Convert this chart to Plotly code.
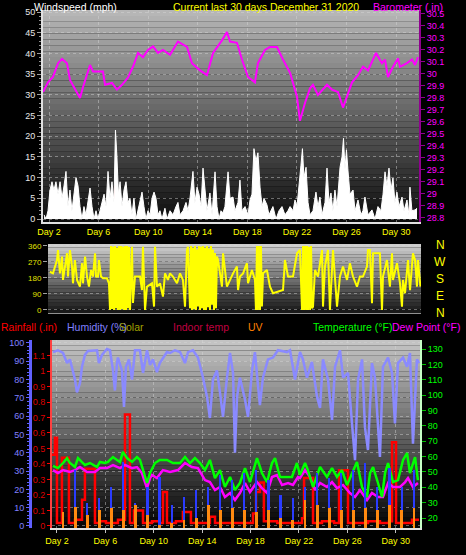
import plotly.graph_objects as go

W, H = 466, 555
FONT = "Liberation Sans, Arial, sans-serif"

# ---------------- DATA ----------------
day_ticks = [2, 6, 10, 14, 18, 22, 26, 30]
day_labels = ["Day %d" % d for d in day_ticks]

baro_days = [1.52, 1.92, 2.32, 2.73, 3.05, 3.29, 3.45, 3.69, 4.10, 4.50,
             4.74, 5.15, 5.31, 5.55, 6.35, 6.52, 7.08, 7.48, 7.89, 8.37,
             8.77, 9.18, 9.58, 9.98, 10.39, 10.79, 11.19, 11.76, 12.40, 13.13,
             13.53, 14.18, 14.74, 15.23, 15.95, 16.35, 16.60, 17.16, 17.56, 18.05,
             18.61, 18.85, 19.42, 19.82, 20.39, 20.87, 21.44, 22.0, 22.24, 22.65,
             23.05, 23.29, 23.69, 24.42, 24.82, 25.31, 25.71, 26.44, 26.92, 27.32,
             27.73, 28.37, 28.85, 29.10, 29.34, 29.74, 30.15, 30.31, 30.87, 31.27,
             31.52, 31.76]
baro_inhg = [29.85, 29.93, 29.975, 30.09, 30.125, 30.10, 30.09, 29.95, 29.87, 29.80,
             29.89, 30.01, 30.075, 30.02, 30.02, 29.91, 29.925, 29.87, 29.91, 29.97,
             30.06, 30.175, 30.14, 30.20, 30.23, 30.175, 30.20, 30.16, 30.27, 30.225,
             30.09, 30.03, 29.99, 30.175, 30.28, 30.35, 30.27, 30.26, 30.12, 29.975,
             29.93, 30.09, 30.20, 30.225, 30.225, 30.12, 30.01, 29.81, 29.61, 29.76,
             29.88, 29.91, 29.825, 29.91, 29.87, 29.85, 29.72, 29.93, 29.99, 30.06,
             30.03, 30.175, 30.09, 30.12, 29.975, 30.06, 30.13, 30.06, 30.09, 30.12,
             30.075, 30.14]

wind_days = [1.6, 1.76, 1.92, 2.08, 2.24, 2.4, 2.56, 2.73, 2.89, 3.05,
             3.21, 3.37, 3.53, 3.69, 3.85, 4.02, 4.18, 4.34, 4.5, 4.66,
             4.82, 4.98, 5.15, 5.31, 5.47, 5.63, 5.79, 5.95, 6.11, 6.27,
             6.44, 6.6, 6.76, 6.92, 7.08, 7.24, 7.36, 7.48, 7.6, 7.73,
             7.89, 8.05, 8.21, 8.37, 8.53, 8.69, 8.85, 9.02, 9.18, 9.34,
             9.5, 9.66, 9.82, 9.98, 10.15, 10.31, 10.47, 10.63, 10.79, 10.95,
             11.11, 11.35, 11.52, 11.76, 12.0, 12.24, 12.4, 12.56, 12.81, 13.05,
             13.21, 13.37, 13.61, 13.77, 13.94, 14.1, 14.26, 14.42, 14.58, 14.74,
             14.98, 15.15, 15.39, 15.55, 15.71, 15.87, 16.03, 16.19, 16.44, 16.6,
             16.84, 17.0, 17.24, 17.4, 17.56, 17.81, 18.05, 18.21, 18.37, 18.53,
             18.69, 18.85, 19.02, 19.18, 19.34, 19.58, 19.74, 19.9, 20.06, 20.31,
             20.55, 20.79, 21.03, 21.27, 21.44, 21.68, 21.84, 22.0, 22.16, 22.32,
             22.44, 22.56, 22.73, 22.89, 23.05, 23.29, 23.53, 23.69, 23.85, 24.02,
             24.26, 24.42, 24.58, 24.74, 24.9, 25.06, 25.23, 25.47, 25.63, 25.75,
             25.87, 25.99, 26.11, 26.27, 26.52, 26.68, 26.92, 27.16, 27.32, 27.48,
             27.73, 28.05, 28.29, 28.53, 28.77, 28.94, 29.1, 29.26, 29.42, 29.58,
             29.74, 29.9, 30.06, 30.23, 30.47, 30.63, 30.87, 31.03, 31.11, 31.27,
             31.52, 31.68]
wind_mph = [1, 0, 2, 7, 9, 7, 9, 6, 9, 5,
            8, 11.5, 3, 7, 2, 6, 10, 8, 3, 0,
            3, 1, 5, 7.5, 3, 0, 2, 0, 2, 4,
            6, 3, 11.5, 5, 9, 4, 21.5, 15, 6, 9,
            3, 7, 9, 4, 5, 1, 5, 0, 2, 4,
            6.5, 3, 0, 2, 1, 5, 6.5, 5, 1, 2,
            0, 2.6, 0, 2, 1, 3, 4, 1, 2, 4,
            2, 5, 11.5, 4, 7.7, 6, 3, 12.3, 6, 2,
            6.3, 1, 11.4, 3, 0, 2, 1.5, 3, 11.4, 5,
            5.3, 2, 4, 9.4, 2, 3, 1, 4.6, 6, 17,
            14, 16, 7.7, 3, 5, 3.4, 1, 2, 3, 0,
            2, 3, 1, 2, 3, 2, 4.6, 3, 9, 13,
            17, 10, 12.5, 4, 1, 2, 6.5, 3, 5.3, 1,
            4, 12.3, 4, 6.3, 2, 7, 3, 12.5, 15, 19.5,
            12, 16.7, 11.8, 6, 7, 2, 4.6, 1, 2, 5.3,
            1, 2.2, 0, 3, 2, 6, 11.4, 8, 12.3, 7,
            9.9, 4, 6.5, 3, 5.3, 2, 4.6, 1, 7.7, 2,
            2.2, 2.6]

wavg_days = [2.3, 3.4, 4.2, 5.3, 6.8, 7.36, 7.5, 8.2, 9.5, 10.5,
             13.6, 14.4, 15.4, 16.4, 17.4, 18.5, 18.9, 22.4, 22.7, 24.4,
             25.5, 25.75, 26.0, 29.1, 29.4, 30.1, 31.1]
wavg_mph = [3, 4, 3, 2, 4, 8, 5, 3, 2, 2,
            3, 4, 3, 4, 3, 6, 5, 6, 4, 4,
            4, 7, 6, 4, 5, 2, 3]

dir_days = [1.66, 1.91, 2.24, 2.32, 2.48, 2.65, 2.73, 3.06, 3.14, 3.30,
            3.47, 3.55, 3.71, 3.88, 4.12, 4.29, 4.37, 4.54, 4.70, 4.86,
            5.03, 5.19, 5.36, 5.44, 5.60, 5.68, 5.85, 6.01, 6.34, 6.50,
            6.59, 6.67, 6.75, 6.83, 6.92, 7.00, 7.08, 7.16, 7.24, 7.33,
            7.41, 7.49, 7.57, 7.65, 7.74, 7.82, 7.90, 7.98, 8.06, 8.15,
            8.23, 8.39, 8.47, 8.64, 9.05, 9.21, 9.29, 9.46, 9.62, 10.03,
            10.20, 10.28, 10.44, 10.69, 10.93, 11.10, 11.34, 11.51, 11.75, 12.08,
            12.33, 12.57, 12.74, 12.90, 12.98, 13.15, 13.23, 13.31, 13.39, 13.48,
            13.56, 13.64, 13.72, 13.80, 13.89, 13.97, 14.05, 14.13, 14.21, 14.30,
            14.38, 14.46, 14.54, 14.62, 14.71, 14.79, 14.87, 14.95, 15.03, 15.12,
            15.20, 15.28, 15.36, 15.45, 15.77, 15.86, 16.18, 16.43, 16.68, 17.00,
            17.09, 17.25, 17.50, 17.82, 17.91, 18.23, 18.48, 18.56, 18.64, 18.72,
            18.81, 18.89, 18.97, 19.05, 19.14, 19.46, 19.71, 19.96, 20.37, 20.78,
            20.94, 21.19, 21.60, 21.93, 22.17, 22.34, 22.42, 22.50, 22.58, 22.67,
            22.75, 22.83, 22.91, 23.00, 23.08, 23.16, 23.24, 23.40, 23.65, 23.98,
            24.06, 24.22, 24.47, 24.63, 24.88, 25.21, 25.45, 25.70, 26.03, 26.27,
            26.52, 26.85, 27.09, 27.34, 27.67, 27.75, 27.91, 28.08, 28.16, 28.73,
            28.90, 28.98, 29.31, 29.55, 29.72, 29.80, 30.13, 30.38, 30.54, 30.62,
            30.79, 31.03, 31.20, 31.44, 31.61, 31.77, 31.85, 32.05]
dir_deg = [215, 206, 281, 337, 206, 300, 169, 319, 188, 337,
           244, 150, 281, 169, 131, 263, 150, 300, 188, 131,
           225, 188, 319, 188, 188, 281, 188, 178, 178, 150,
           0, 360, 5, 355, 0, 360, 10, 350, 0, 360,
           0, 360, 5, 355, 0, 360, 0, 360, 10, 355,
           0, 356, 40, 188, 188, 112, 356, 0, 131, 150,
           19, 356, 131, 150, 75, 206, 169, 206, 188, 150,
           206, 169, 19, 337, 356, 10, 360, 0, 350, 5,
           360, 0, 340, 20, 360, 0, 355, 10, 360, 0,
           350, 0, 360, 15, 345, 0, 360, 30, 340, 0,
           320, 10, 300, 281, 131, 319, 131, 169, 206, 244,
           112, 188, 206, 263, 150, 225, 169, 0, 360, 0,
           360, 0, 360, 20, 206, 225, 131, 94, 103, 112,
           281, 188, 188, 319, 337, 0, 360, 0, 360, 0,
           360, 0, 355, 0, 360, 10, 19, 225, 188, 337,
           19, 244, 337, 0, 337, 19, 188, 244, 169, 263,
           188, 131, 188, 188, 244, 337, 337, 38, 319, 319,
           0, 188, 281, 131, 319, 169, 263, 150, 19, 169,
           94, 281, 112, 319, 281, 131, 281, 131]

hum_days = [1.67, 2.08, 2.50, 2.83, 3.07, 3.49, 3.65, 3.90, 4.07, 4.31,
            4.56, 4.98, 5.31, 5.47, 5.72, 6.13, 6.38, 6.63, 6.79, 6.96,
            7.04, 7.37, 7.54, 7.70, 7.95, 8.20, 8.45, 8.86, 9.11, 9.44,
            9.69, 9.93, 10.26, 10.50, 10.76, 11.09, 11.34, 11.75, 12.17, 12.58,
            12.83, 13.24, 13.65, 14.07, 14.40, 14.64, 14.89, 15.22, 15.47, 15.72,
            16.05, 16.30, 16.55, 16.71, 16.88, 17.12, 17.54, 17.79, 18.12, 18.36,
            18.61, 18.77, 19.02, 19.44, 19.85, 20.26, 21.01, 21.26, 21.67, 22.08,
            22.33, 22.66, 23.07, 23.49, 23.74, 23.98, 24.40, 24.73, 24.98, 25.39,
            25.64, 26.05, 26.38, 26.63, 26.88, 27.21, 27.45, 27.70, 28.03, 28.28,
            28.69, 28.94, 29.36, 29.69, 29.93, 30.18, 30.60, 30.93, 31.17, 31.42,
            31.75, 31.92]
hum_pct = [95, 96, 94.5, 89, 91, 80, 73, 78, 87, 93.5,
           95.6, 96, 96, 89, 93.5, 96.7, 96, 85, 74, 89,
           92, 85, 65, 87, 91, 80, 96, 96, 83.6, 96,
           88, 91, 84, 89, 92, 95, 94.5, 96, 95, 89,
           95, 96, 92, 81, 70.5, 59, 80, 85, 73, 59.6,
           81, 94.5, 83.6, 40, 70.5, 81, 69, 59.6, 85, 95,
           77, 66, 81, 91, 92, 96, 95, 96, 80, 95,
           91, 81, 89.6, 70.5, 64.5, 91, 80, 58, 87, 96,
           81, 83.6, 56, 36, 80, 91, 54, 41.5, 89, 81,
           37.7, 87, 92, 83.6, 56, 89, 92, 87, 94.5, 45,
           91, 89]

temp_days = [1.67, 2.08, 2.50, 2.83, 3.07, 3.49, 3.74, 4.07, 4.31, 4.73,
             5.31, 5.55, 5.97, 6.21, 6.63, 6.96, 7.21, 7.45, 7.79, 8.20,
             8.61, 8.86, 9.11, 9.44, 9.69, 10.10, 10.50, 11.09, 11.59, 12.17,
             12.58, 12.99, 13.40, 13.82, 14.23, 14.64, 15.06, 15.47, 15.88, 16.30,
             16.71, 17.12, 17.54, 17.95, 18.53, 18.94, 19.36, 19.77, 20.02, 20.43,
             20.84, 21.42, 21.83, 22.08, 22.50, 22.74, 23.16, 23.74, 24.31, 24.73,
             25.14, 25.55, 25.97, 26.38, 26.79, 27.21, 27.62, 27.87, 28.12, 28.53,
             28.86, 29.11, 29.36, 29.77, 30.18, 30.60, 30.93, 31.17, 31.59, 31.83]
temp_f = [53.9, 52.5, 55.8, 59, 55.8, 53.2, 59, 56.5, 54.5, 55.8,
          53.2, 56.5, 55.8, 56.5, 59.7, 57.8, 56.5, 63, 59, 56.5,
          59.7, 57.8, 51, 42.8, 49.3, 55.8, 57.8, 57.8, 55.8, 55.8,
          59.7, 55.8, 59, 55.8, 51.2, 57.8, 46, 51.2, 40.2, 46.7,
          38.2, 42.8, 52.5, 43.4, 59, 49.3, 43.4, 55.8, 59, 46.7,
          46.7, 46.7, 55.8, 48, 55.8, 51.2, 40.2, 53.2, 46.7, 52.5,
          46.7, 51.2, 41.5, 49.3, 56.5, 40.2, 33.7, 49.3, 53.2, 42.8,
          33.7, 49.3, 55.8, 43.4, 44.7, 57.8, 62.3, 49.3, 59.7, 44.7]

dew_days = [1.67, 2.08, 2.50, 3.07, 3.49, 3.90, 4.48, 5.14, 5.55, 6.13,
            6.63, 7.21, 7.62, 8.20, 8.61, 9.02, 9.44, 9.69, 9.85, 10.26,
            10.76, 11.34, 12.0, 12.58, 13.15, 13.65, 14.23, 14.64, 15.06, 15.47,
            15.88, 16.30, 16.71, 17.12, 17.54, 17.95, 18.53, 18.94, 19.36, 19.77,
            20.18, 20.60, 21.10, 21.50, 21.92, 22.08, 22.50, 22.91, 23.33, 23.74,
            24.31, 24.73, 25.14, 25.64, 26.21, 26.63, 27.04, 27.62, 28.03, 28.53,
            28.94, 29.36, 29.77, 30.35, 30.77, 31.01, 31.42, 31.83]
dew_f = [51.2, 49.3, 51.2, 50, 51.2, 53.2, 50, 50, 52.5, 52.5,
         54.5, 52.5, 54.5, 52.5, 53.2, 49.3, 39.5, 46, 48, 46,
         51.2, 50, 51.2, 55.8, 53.2, 52.5, 44.7, 43.4, 38.2, 40.2,
         33.7, 36.3, 31.7, 36.3, 42.8, 36.9, 43.4, 39.5, 36.3, 46.7,
         48, 41.5, 42.8, 41.5, 46.7, 46, 51.2, 46.7, 38.2, 42.8,
         40.2, 43.4, 39.5, 41.5, 36.3, 33.7, 38.2, 31.7, 36.3, 33.7,
         33.7, 42.8, 40.2, 40.2, 43.4, 46, 40.2, 42.8]

rain_days = [1.59, 1.83, 2.0, 2.41, 2.99, 3.49, 4.07, 4.31, 5.14, 5.55,
             6.05, 7.04, 7.62, 8.03, 8.36, 9.11, 9.85, 10.5, 10.76, 11.09,
             11.83, 12.41, 13.07, 14.64, 15.06, 16.13, 18.2, 18.45, 18.78, 19.1,
             20.2, 20.84, 21.83, 22.25, 22.42, 23.16, 23.9, 24.9, 25.31, 26.05,
             27.04, 27.7, 28.69, 29.44, 29.69, 30.02, 31.34, 31.92]
rain_in = [0.46, 0.57, 0.02, 0.44, 0.02, 0.04, 0.17, 0.37, 0.02, 0.03,
           0.02, 0.04, 0.72, 0.02, 0.1, 0.02, 0.03, 0.02, 0.22, 0.02,
           0.03, 0.09, 0.02, 0.06, 0.02, 0.02, 0.08, 0.22, 0.28, 0.03,
           0.02, 0.02, 0.02, 0.05, 0.31, 0.02, 0.03, 0.02, 0.36, 0.02,
           0.02, 0.03, 0.02, 0.03, 0.54, 0.02, 0.04, 0.04]

sun_days = [2.5, 3.5, 4.5, 5.5, 6.5, 7.5, 8.5, 9.5, 10.5, 11.5,
            12.5, 13.5, 14.5, 15.5, 16.5, 17.5, 18.5, 19.5, 20.5, 21.5,
            22.5, 23.5, 24.5, 25.5, 26.5, 27.5, 28.5, 29.5, 30.5, 31.5]
solar_wm2 = [80, 308, 133, 160, 218, 351, 133, 218, 271, 122,
             165, 202, 218, 282, 255, 292, 308, 255, 175, 160,
             218, 292, 266, 292, 308, 346, 218, 319, 218, 308]
uv_index = [0.85, 1.1, 0.7, 0.96, 1.06, 0.96, 1.22, 0.7, 0.16, 0.27,
            0.43, 0.53, 1.22, 0.96, 1.06, 0.96, 0.85, 0.96, 0.53, 0.43,
            1.49, 1.22, 1.06, 0.96, 0.96, 1.06, 0.96, 1.22, 0.96, 1.06]

rain_ticks = [0, 0.1, 0.2, 0.3, 0.4, 0.5, 0.6, 0.7, 0.8, 0.9, 1.0, 1.1]
rain_labels = ["0", "0.1", "0.2", "0.3", "0.4", "0.5", "0.6", "0.7", "0.8", "0.9", "1", "1.1"]

# ---------------- FIGURE ----------------
def px(x):
    return x / W

def py(y):
    return 1 - y / H

fig = go.Figure()

# top panel: wind + barometer
fig.add_trace(go.Scatter(x=wind_days, y=wind_mph, mode="lines", fill="tozeroy",
                         line=dict(color="#ffffff", width=1), fillcolor="#ffffff",
                         xaxis="x", yaxis="y", hoverinfo="skip"))
fig.add_trace(go.Bar(x=wavg_days, y=wavg_mph, width=0.12, marker=dict(color="#ff1010", line=dict(width=0)),
                     xaxis="x", yaxis="y"))
fig.add_trace(go.Scatter(x=baro_days, y=baro_inhg, mode="lines",
                         line=dict(color="#ff00ff", width=2), xaxis="x", yaxis="y2"))

# middle panel: wind direction
fig.add_trace(go.Scatter(x=dir_days, y=dir_deg, mode="lines",
                         line=dict(color="#ffff00", width=2), xaxis="x2", yaxis="y3"))

# bottom panel
fig.add_trace(go.Bar(x=sun_days, y=solar_wm2, width=0.14, marker=dict(color="#2a3cff", line=dict(width=0)),
                     xaxis="x3", yaxis="y7"))
fig.add_trace(go.Bar(x=sun_days, y=uv_index, width=0.24, marker=dict(color="#ff8a10", line=dict(width=0)),
                     xaxis="x3", yaxis="y8"))
fig.add_trace(go.Scatter(x=hum_days, y=hum_pct, mode="lines",
                         line=dict(color="#8a8aff", width=2.5), xaxis="x3", yaxis="y5"))
fig.add_trace(go.Scatter(x=dew_days, y=dew_f, mode="lines",
                         line=dict(color="#ff00ff", width=2.5), xaxis="x3", yaxis="y6"))
fig.add_trace(go.Scatter(x=temp_days, y=temp_f, mode="lines",
                         line=dict(color="#00ff00", width=2.5), xaxis="x3", yaxis="y6"))
fig.add_trace(go.Scatter(x=rain_days, y=rain_in, mode="lines", line_shape="hv",
                         line=dict(color="#ff0000", width=2.5), xaxis="x3", yaxis="y4"))

# background gradients
def gradient(xr, yr, top, bottom, n=36):
    out = []
    for i in range(n):
        t = i / (n - 1)
        c = int(round(top + (bottom - top) * t))
        out.append(dict(type="rect", xref=xr + " domain", yref=yr + " domain",
                        x0=0, x1=1, y0=1 - (i + 1) / n, y1=1 - i / n,
                        fillcolor="rgb(%d,%d,%d)" % (c, c, c),
                        line=dict(width=0), layer="below"))
    return out

shapes = gradient("x", "y", 182, 14) + gradient("x2", "y3", 205, 25, 20) + gradient("x3", "y4", 195, 5)

grid = "rgba(215,215,215,0.45)"

fig.update_layout(
    width=W, height=H, autosize=False,
    margin=dict(l=0, r=0, t=0, b=0, autoexpand=False),
    paper_bgcolor="#000000", plot_bgcolor="#000000",
    showlegend=False, barmode="overlay", bargap=0,
    font=dict(family=FONT, color="#ffffff"),
    shapes=shapes,
    xaxis=dict(domain=[px(43), px(419)], range=[1.516, 31.84], anchor="y", automargin=False,
               tickvals=day_ticks, ticktext=day_labels,
               tickfont=dict(family=FONT, size=9, color="#ffff00"),
               showgrid=True, gridcolor=grid, griddash="dot", zeroline=False,
               showline=True, linecolor="#e0e0e0", linewidth=2, ticks=""),
    yaxis=dict(domain=[py(221.7), py(10)], range=[-0.65, 50.5], anchor="x", automargin=False,
               tickvals=[0, 5, 10, 15, 20, 25, 30, 35, 40, 45, 50],
               tickfont=dict(family=FONT, size=9, color="#e8e8e8"),
               ticks="outside", ticklen=4, tickcolor="#a0a0a0",
               minor=dict(dtick=1, ticklen=2, tickcolor="#909090", ticks="outside"),
               showline=True, linecolor="#e0e0e0", linewidth=2,
               showgrid=True, gridcolor=grid, griddash="dot", zeroline=False),
    yaxis2=dict(overlaying="y", side="right", anchor="x", range=[28.769, 30.533], automargin=False,
                tick0=28.8, dtick=0.1,
                tickfont=dict(family=FONT, size=9, color="#ff00ff"),
                ticks="outside", ticklen=4, tickcolor="#900090",
                showline=True, linecolor="#900090", linewidth=2,
                showgrid=False, zeroline=False),
    xaxis2=dict(domain=[px(48), px(421)], range=[1.5, 32.1], anchor="y3", automargin=False,
                showticklabels=False, showgrid=False, zeroline=False,
                showline=True, linecolor="#909090", linewidth=1, ticks=""),
    yaxis3=dict(domain=[py(313), py(244)], range=[-17, 371], anchor="x2", automargin=False,
                tickvals=[0, 90, 180, 270, 360],
                tickfont=dict(family=FONT, size=8, color="#e0e000"),
                ticks="outside", ticklen=4, tickcolor="#a0a0a0",
                showgrid=True, gridcolor=grid, griddash="dot", zeroline=False,
                showline=False),
    xaxis3=dict(domain=[px(52), px(420)], range=[1.59, 32.0], anchor="y4", automargin=False,
                tickvals=day_ticks, ticktext=day_labels,
                tickfont=dict(family=FONT, size=9, color="#ffff00"),
                ticks="outside", ticklen=3, tickcolor="#c0c0c0",
                showgrid=True, gridcolor=grid, griddash="dot", zeroline=False,
                showline=True, linecolor="#e0e0e0", linewidth=2),
    yaxis4=dict(domain=[py(528), py(340)], range=[-0.013, 1.2], anchor="x3", automargin=False,
                tickvals=rain_ticks, ticktext=rain_labels,
                tickfont=dict(family=FONT, size=9, color="#dd0000"),
                ticks="outside", ticklen=3, tickcolor="#ff0000",
                showline=True, linecolor="#ff4040", linewidth=2,
                showgrid=False, zeroline=False),
    yaxis5=dict(overlaying="y4", anchor="free", position=px(30), side="left", automargin=False,
                range=[-1.1, 101.6], tickvals=[0, 10, 20, 30, 40, 50, 60, 70, 80, 90, 100],
                tickfont=dict(family=FONT, size=9, color="#8080ff"),
                ticks="outside", ticklen=3, tickcolor="#6060ff",
                minor=dict(dtick=2, ticklen=2, tickcolor="#6060ff", ticks="outside"),
                showline=True, linecolor="#6060ff", linewidth=3,
                showgrid=True, gridcolor=grid, griddash="dot", zeroline=False),
    yaxis6=dict(overlaying="y4", anchor="x3", side="right", automargin=False,
                range=[13.5, 135.9], tickvals=[20, 30, 40, 50, 60, 70, 80, 90, 100, 110, 120, 130],
                tickfont=dict(family=FONT, size=9, color="#00ff00"),
                ticks="outside", ticklen=4, tickcolor="#00c000",
                showline=True, linecolor="#c8ffc8", linewidth=2,
                showgrid=False, zeroline=False),
    yaxis7=dict(overlaying="y4", range=[0, 1000], visible=False, automargin=False),
    yaxis8=dict(overlaying="y4", range=[0, 10], visible=False, automargin=False),
)

ann = []
def label(text, x, y, color, size=11, xanchor="left"):
    ann.append(dict(text=text, x=px(x), y=py(y), xref="paper", yref="paper",
                    xanchor=xanchor, yanchor="middle", showarrow=False,
                    font=dict(family=FONT, size=size, color=color)))

label("Windspeed (mph)", 32, 7, "#ffffff", 10.5)
label("Current last 30 days December 31 2020", 171, 7, "#ffff00", 10.5)
label("Barometer (.in)", 371, 7, "#ff00ff", 10.5)
label("Rainfall (.in)", -1, 327, "#ff0000", 10.5)
label("Humidity (%)", 65, 327, "#8080ff", 10.5)
label("Solar", 117, 327, "#a0a000", 10.5)
label("Indoor temp", 171, 327, "#c00040", 10.5)
label("UV", 246, 327, "#ff8000", 10.5)
label("Temperature (°F)", 311, 327, "#00ff00", 10.5)
label("Dew Point (°F)", 390, 327, "#ff00ff", 10.5)
for t, yy in zip(["N", "W", "S", "E", "N"], [245, 262, 279, 296, 313]):
    label(t, 440, yy, "#ffff00", size=12, xanchor="center")

fig.update_layout(annotations=ann)
fig.write_html("out.html", config={"displayModeBar": False},
               post_script="document.body.style.margin='0';document.body.style.padding='0';document.body.style.overflow='hidden';")
